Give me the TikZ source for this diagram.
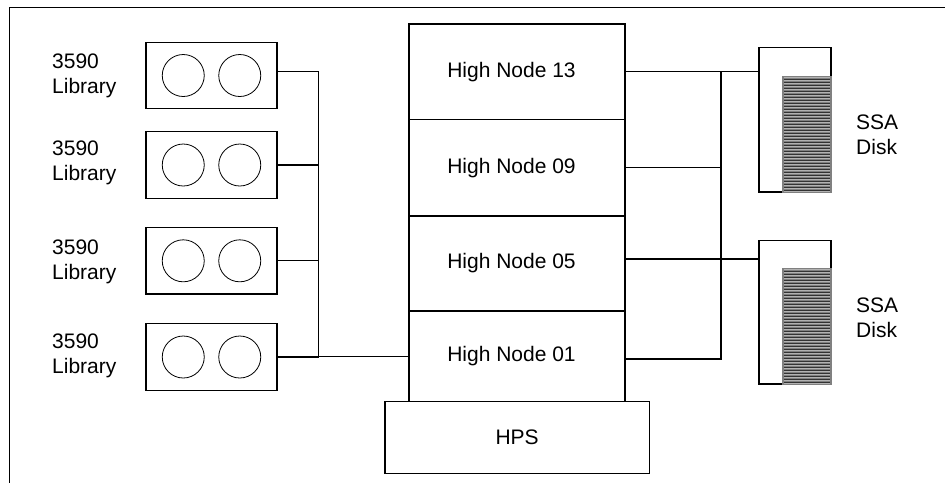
\documentclass[tikz,border=0pt]{standalone}
\usepackage{fontspec}
\setmainfont{Liberation Sans}
\usetikzlibrary{calc}
\tikzset{
  txt/.style={font=\fontsize{21}{25}\selectfont},
  libbox/.style={draw, line width=1.3pt, minimum width=131pt, minimum height=66.5pt, inner sep=0pt, outer sep=0pt},
  reel/.style={draw, circle, line width=0.8pt, minimum size=42pt, inner sep=0pt},
  libtext/.style={txt, anchor=west, align=left, inner sep=0pt},
  hnode/.style={draw, txt, line width=1.3pt, minimum width=216pt, inner sep=0pt, outer sep=0pt},
  diskcase/.style={draw, line width=1.3pt, minimum width=72pt, inner sep=0pt, outer sep=0pt},
  diskstack/.style={fill=black!50, minimum width=49.4pt, inner sep=0pt, outer sep=0pt,
    path picture={
      \foreach \i in {1,...,39}{
        \draw[black!30, line width=0.8pt]
          ([xshift=2pt,yshift={-\i*3pt+1.5pt}]path picture bounding box.north west) --
          ([xshift=-2pt,yshift={-\i*3pt+1.5pt}]path picture bounding box.north east);
        \draw[black!80, line width=1pt]
          ([xshift=2pt,yshift={-\i*3pt}]path picture bounding box.north west) --
          ([xshift=-2pt,yshift={-\i*3pt}]path picture bounding box.north east);
      }
    }},
  wire/.style={line width=1.3pt},
  frame/.style={line width=1pt}
}
\begin{document}
\begin{tikzpicture}[x=1pt,y=-1pt]
\useasboundingbox (0,0) rectangle (945,483);

% open frame
\draw[frame] (945,7) -- (9,7) -- (9,483);

% tape libraries
\foreach \n/\y in {1/75.5, 2/165, 3/260.8, 4/357}{
  \node[libbox] (lib\n) at (211.5,\y) {};
  \node[reel] (lib\n a) at ([xshift=-28.25pt]lib\n.center) {};
  \node[reel] (lib\n b) at ([xshift=28.25pt]lib\n.center) {};
}
\node[libtext] (lab1) at (52,75.7) {3590\\Library};
\node[libtext] (lab2) at (52,163) {3590\\Library};
\node[libtext] (lab3) at (52,262) {3590\\Library};
\node[libtext] (lab4) at (52,356) {3590\\Library};

% high node stack and switch
\node[hnode, minimum height=95.3pt] (hn13) at (517,71.65) {\hspace*{-11pt}High Node 13};
\node[hnode, minimum height=96.7pt] (hn09) at (517,167.65) {\hspace*{-11pt}High Node 09};
\node[hnode, minimum height=95pt] (hn05) at (517,263.5) {\hspace*{-11pt}High Node 05};
\node[hnode, minimum height=90.7pt] (hn01) at (517,356.35) {\hspace*{-11pt}High Node 01};
\node[draw, txt, line width=1.3pt, minimum width=264.3pt, minimum height=71.6pt, inner sep=0pt] (hps) at (517.15,437.5) {HPS};

% SSA disk units
\node[diskcase, minimum height=144.3pt] (disk1) at (795,119.85) {};
\node[diskstack, minimum height=116.7pt] (stack1) at (807,134.35) {};
\node[diskcase, minimum height=143.3pt] (disk2) at (795,312.35) {};
\node[diskstack, minimum height=116.2pt] (stack2) at (807,326.4) {};
\node[libtext] (ssa1) at (856,135) {SSA\\Disk};
\node[libtext] (ssa2) at (856,318) {SSA\\Disk};

% library bus
\coordinate (busL) at (318.5,0);
\coordinate (l1) at ([yshift=3.8pt]lib1.east);
\draw[wire] (l1) -- (l1 -| busL) -- (busL |- hn01.west) -- (hn01.west);
\draw[wire] (lib2.east) -- (lib2.east -| busL);
\draw[wire] (lib3.east) -- (lib3.east -| busL);
\draw[wire] (lib4.east) -- (lib4.east -| busL);

% disk bus
\coordinate (busR) at (721,0);
\coordinate (p05) at ([yshift=4.5pt]hn05.east);
\coordinate (p01) at ([yshift=-2.6pt]hn01.east);
\draw[wire] (hn13.east) -- (disk1.west |- hn13.east);
\draw[wire] (p05) -- (disk2.west |- p05);
\draw[wire] (hn09.east) -- (hn09.east -| busR);
\draw[wire] (p01) -- (p01 -| busR) -- (busR |- hn13.east);
\end{tikzpicture}
\end{document}
